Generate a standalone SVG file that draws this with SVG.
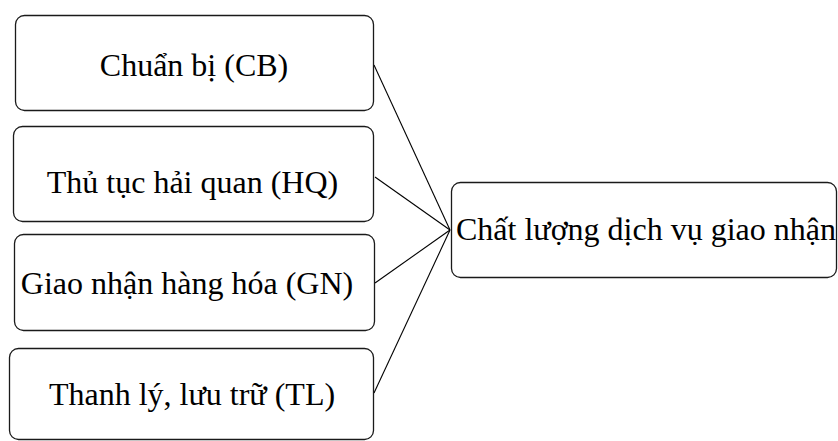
<svg xmlns="http://www.w3.org/2000/svg" width="838" height="441" viewBox="0 0 838 441">
  <style>
    .box { fill: #ffffff; stroke: #1a1a1a; stroke-width: 1.3; }
    .lbl { font-size: 32px; fill: #000000; }
    .mid { text-anchor: middle; }
    .link { stroke: #000000; stroke-width: 1.1; fill: none; }
  </style>
  <rect width="838" height="441" fill="#ffffff"/>

  <g id="connectors">
    <line class="link" x1="374" y1="65" x2="450" y2="230"/>
    <line class="link" x1="375" y1="177" x2="450" y2="230"/>
    <line class="link" x1="375" y1="283" x2="450" y2="230"/>
    <line class="link" x1="374" y1="393" x2="450" y2="230"/>
  </g>

  <g font-family="Liberation Serif, Times New Roman, serif">
    <g id="node-cb">
      <rect class="box" x="15.5" y="15.5" width="358" height="95" rx="9"/>
      <text class="lbl mid" x="194" y="76" font-size="31">Chuẩn bị (CB)</text>
    </g>

    <g id="node-hq">
      <rect class="box" x="13.5" y="126.5" width="360" height="95" rx="9"/>
      <text class="lbl mid" x="192.5" y="193">Thủ tục hải quan (HQ)</text>
    </g>

    <g id="node-gn">
      <rect class="box" x="14.5" y="234.5" width="360" height="96" rx="9"/>
      <text class="lbl mid" x="187" y="294" font-size="31.7">Giao nhận hàng hóa (GN)</text>
    </g>

    <g id="node-tl">
      <rect class="box" x="9.5" y="348.5" width="364" height="91" rx="9"/>
      <text class="lbl mid" x="192" y="405" font-size="31.5">Thanh lý, lưu trữ (TL)</text>
    </g>

    <g id="node-quality">
      <rect class="box" x="451.5" y="182.5" width="385" height="95" rx="9"/>
      <text class="lbl" x="456" y="240">Chất lượng dịch vụ giao nhận</text>
    </g>
  </g>
</svg>
